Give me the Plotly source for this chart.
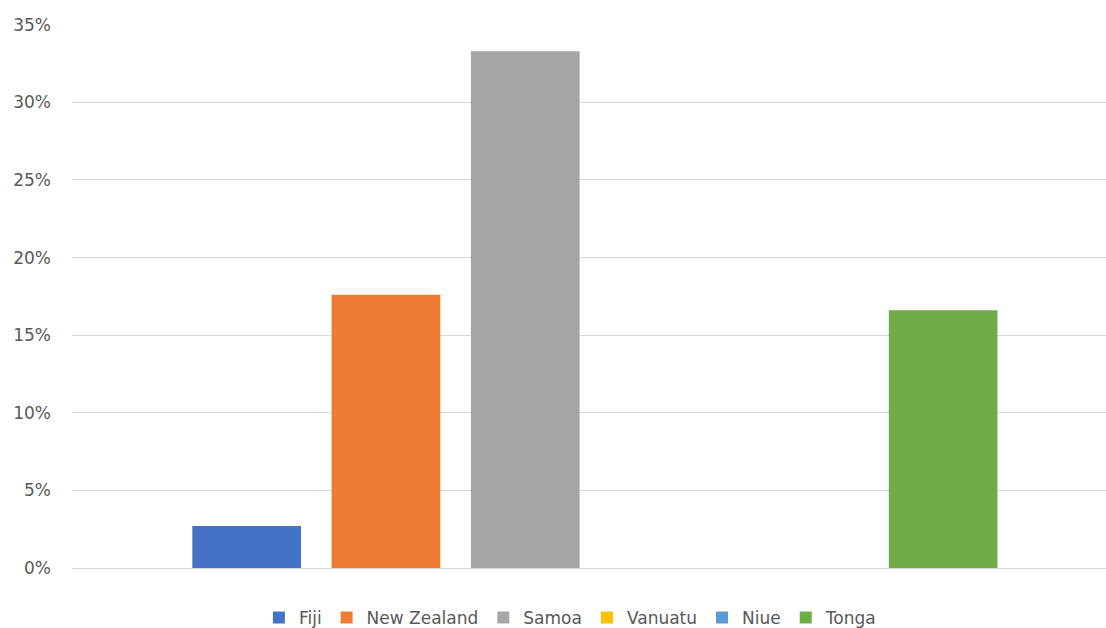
import plotly.graph_objects as go

# One category, six island nations shown as a clustered set of bars
countries = ["Fiji", "New Zealand", "Samoa", "Vanuatu", "Niue", "Tonga"]
shares = [0.027, 0.176, 0.333, 0.0, 0.0, 0.166]
colors = ["#4472C4", "#ED7D31", "#A5A5A5", "#FFC000", "#5B9BD5", "#70AD47"]
tick_vals = [0, 0.05, 0.10, 0.15, 0.20, 0.25, 0.30, 0.35]
tick_text = ["0%", "5%", "10%", "15%", "20%", "25%", "30%", "35%"]

fig = go.Figure()
for name, val, col in zip(countries, shares, colors):
    fig.add_trace(go.Bar(
        x=[""], y=[val], name=name,
        marker=dict(color=col, line=dict(width=0)),
        hovertemplate="%{y:.1%}<extra>" + name + "</extra>",
    ))

font_family = "DejaVu Sans"
text_gray = "#595959"
grid_gray = "#D9D9D9"

fig.update_layout(
    width=1106, height=628,
    margin=dict(l=72, r=0, t=24, b=60, autoexpand=False),
    paper_bgcolor="white", plot_bgcolor="white",
    barmode="group", bargap=0.1917, bargroupgap=0.2197,
    font=dict(family=font_family, size=17, color=text_gray),
    showlegend=True,
    legend=dict(
        orientation="h", xref="paper", x=0.482, xanchor="center",
        yref="container", y=0.016, yanchor="middle",
        font=dict(family=font_family, size=17, color=text_gray),
        bgcolor="rgba(0,0,0,0)", itemclick=False,
    ),
    xaxis=dict(
        type="category", range=[-0.5057, 0.4943],
        showgrid=False, showline=False, zeroline=False,
        showticklabels=False, ticks="",
    ),
    yaxis=dict(
        range=[0, 0.3505], tickvals=tick_vals, ticktext=tick_text,
        showgrid=True, gridcolor=grid_gray, gridwidth=1,
        zeroline=True, zerolinecolor=grid_gray, zerolinewidth=1,
        showline=False, ticks="",
        ticklabelstandoff=20,
        tickfont=dict(family=font_family, size=17, color=text_gray),
    ),
)

fig.write_html("out.html")
